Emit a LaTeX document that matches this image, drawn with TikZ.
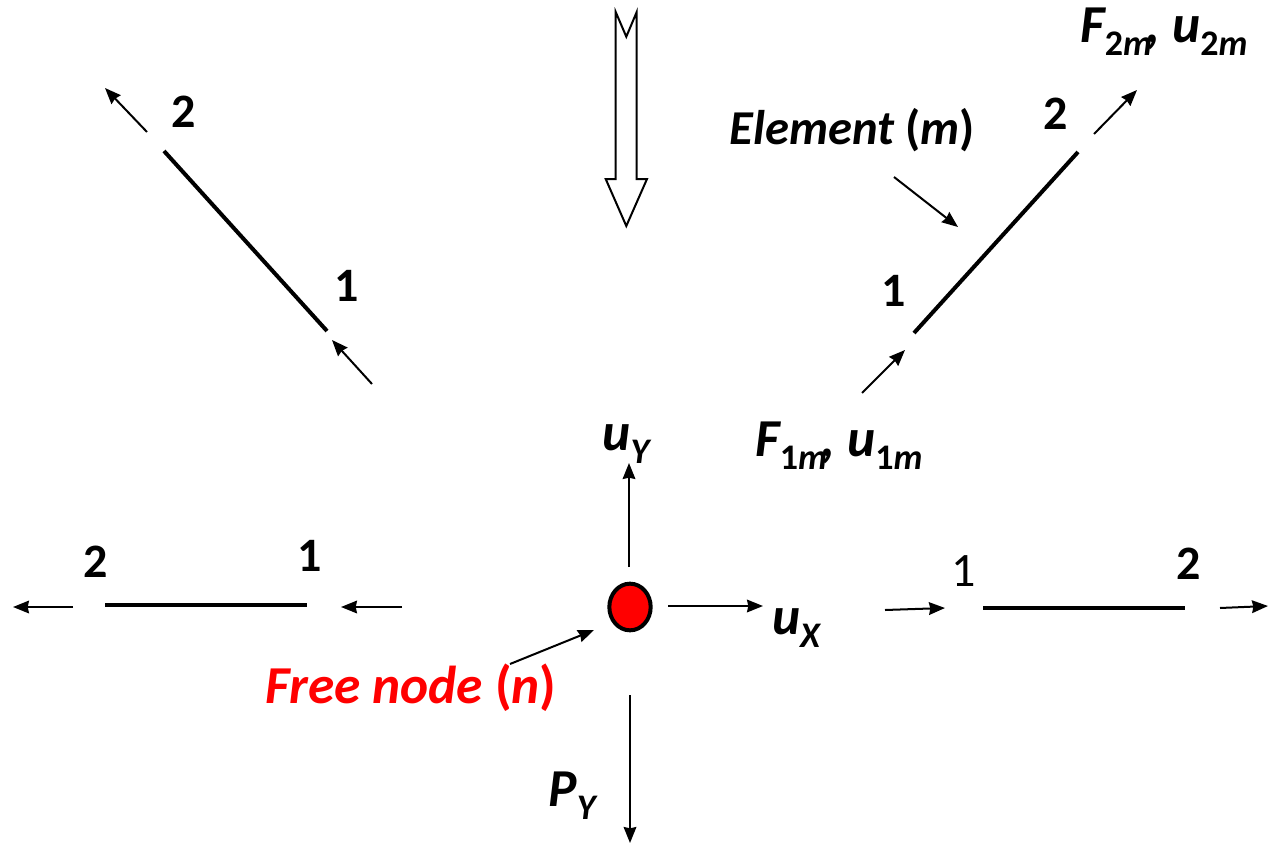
\documentclass[tikz,border=0pt]{standalone}
\usepackage{fontspec}
\setmainfont{Carlito}
\usetikzlibrary{arrows.meta,shapes.geometric}
\newcommand{\lowsub}[1]{\raisebox{-0.25em}{\fontsize{27}{27}\selectfont #1}}
\newcommand{\subm}[1]{\lowsub{\upshape #1\itshape m}}
\tikzset{
  x=0.75pt,y=-0.75pt,
  thinarrow/.style={line width=1.5pt,-{Stealth[length=12pt,width=9.5pt,inset=1pt]}},
  member/.style={line width=3pt},
  lab/.style={font=\fontsize{40}{42}\selectfont\bfseries\itshape,inner sep=0pt,anchor=base},
  elab/.style={font=\fontsize{36.5}{40}\selectfont\bfseries\itshape,inner sep=0pt,anchor=base},
  num/.style={font=\fontsize{36}{38}\selectfont\bfseries,inner sep=0pt,anchor=base},
}
\begin{document}
\begin{tikzpicture}
\useasboundingbox (0,0) rectangle (1268,843);
% hollow arrow
\draw[line width=1.5pt,miter limit=10,fill=white] (615.7,12) -- (626.3,36.7) -- (636.7,12) -- (636.7,179) -- (647,179) -- (626.3,226) -- (605.7,179) -- (615.7,179) -- cycle;
% coordinates
\coordinate (a1) at (164,151); \coordinate (a2) at (327,331);
\coordinate (a3) at (147,132); \coordinate (a4) at (105,88);
\coordinate (a5) at (372,384); \coordinate (a6) at (332,340);
\coordinate (b1) at (914,333); \coordinate (b2) at (1078,152);
\coordinate (b3) at (1094,134); \coordinate (b4) at (1137,90);
\coordinate (b5) at (862,393); \coordinate (b6) at (905,350);
\coordinate (b7) at (894,177); \coordinate (b8) at (958,227);
\coordinate (c1) at (105,605); \coordinate (c2) at (307,605);
\coordinate (c3) at (73,607); \coordinate (c4) at (13,607);
\coordinate (c5) at (402,607); \coordinate (c6) at (341,607);
\coordinate (d1) at (983,608); \coordinate (d2) at (1185,608);
\coordinate (d3) at (885,610); \coordinate (d4) at (945,608);
\coordinate (d5) at (1220,608); \coordinate (d6) at (1268,606);
\coordinate (n1) at (629,567); \coordinate (n2) at (629,463);
\coordinate (n3) at (668,606); \coordinate (n4) at (763,606);
\coordinate (n5) at (510,664); \coordinate (n6) at (594,630);
\coordinate (n7) at (630,695); \coordinate (n8) at (630,843);
% free node
\node[ellipse,draw=black,line width=3pt,fill=red,minimum width=31pt,minimum height=35pt,inner sep=0pt] (fn) at (630,607) {};
% members
\draw[member] (a1) -- (a2);
\draw[member] (b1) -- (b2);
\draw[member] (c1) -- (c2);
\draw[member] (d1) -- (d2);
% arrows
\foreach \s/\e in {a3/a4,a5/a6,b3/b4,b5/b6,b7/b8,c3/c4,c5/c6,d3/d4,d5/d6,n1/n2,n3/n4,n5/n6,n7/n8}
  \draw[thinarrow] (\s) -- (\e);
% numbers
\node[num] (t1) at (184,127) {2};
\node[num] (t2) at (347,301) {1};
\node[num] (t3) at (1056,129) {2};
\node[num] (t4) at (894,306) {1};
\node[num] (t5) at (96,577) {2};
\node[num] (t6) at (310,571) {1};
\node[num,font=\fontsize{36}{38}\selectfont] (t7) at (964,586) {1};
\node[num] (t8) at (1189,579) {2};
% labels
\node[elab] (el) at (852,144) {Element {\upshape(}m{\upshape)}};
\node[lab,text=red] (fr) at (411,703) {Free node {\upshape(}n{\upshape)}};
\node[lab] (f2) at (1164,42) {F\subm{2}\kern-0.1em,\kern0.22em u\subm{2}};
\node[lab] (f1) at (839,456) {F\subm{1}\kern-0.1em,\kern0.22em u\subm{1}};
\node[lab] (uy) at (626,450) {u\lowsub{Y}};
\node[lab] (ux) at (796,634) {u\lowsub{X}};
\node[lab] (py) at (572,806) {P\lowsub{Y}};
\end{tikzpicture}
\end{document}
